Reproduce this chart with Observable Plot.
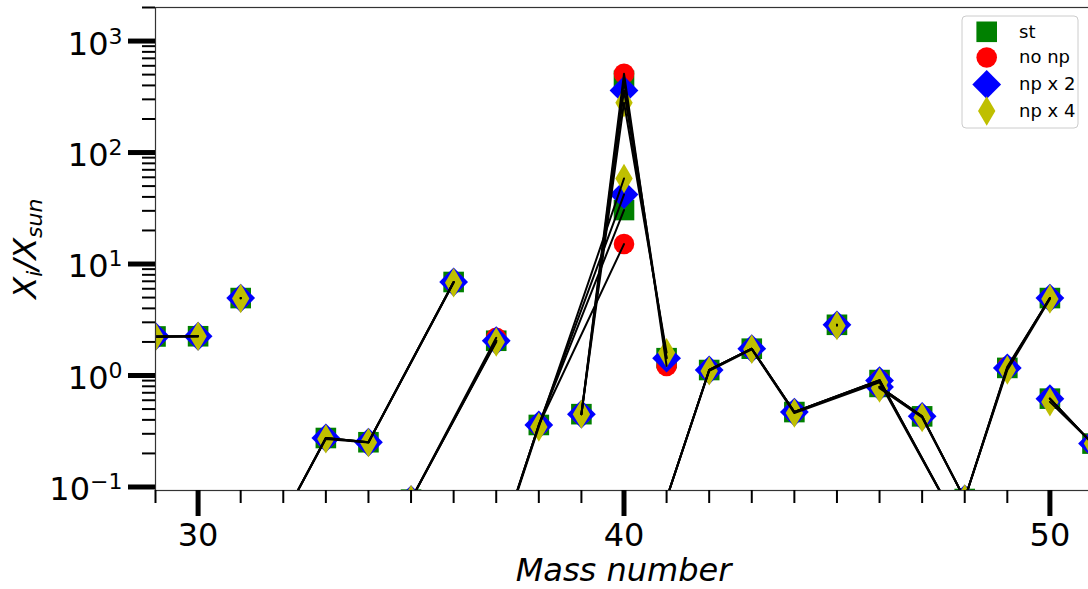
<!DOCTYPE html>
<html><head><meta charset="utf-8">
<script src="https://cdn.jsdelivr.net/npm/d3@7"></script>
<script src="https://cdn.jsdelivr.net/npm/@observablehq/plot@0.6"></script>
<style>html,body{margin:0;padding:0;background:#fff;overflow:hidden}</style>
</head><body><div id="chart"></div>
<script>
// ---- data ----
const element = ["Si","Si","P","S","S","S","S","Cl","Cl","Ar","Ar","Ar","K","K","K","Ca","Ca","Ca","Ca","Ca","Ca","Sc","Ti","Ti","Ti","Ti","Ti","V","V"];
const mass    = [29,30,31,32,33,34,36,35,37,36,38,40,39,40,41,40,42,43,44,46,48,45,46,47,48,49,50,50,51];
const st      = [2.24,2.25,4.95,0.053,0.275,0.252,6.9,0.077,2.05,0.0017,0.36,30.5,0.45,440,1.43,0.0056,1.12,1.74,0.47,0.91,0.036,2.85,0.79,0.43,0.078,1.17,4.95,0.62,0.245];
const noNp    = [2.24,2.25,4.95,0.053,0.275,0.252,6.9,0.077,2.18,0.0017,0.36,15.1,0.45,509,1.22,0.0056,1.12,1.74,0.47,0.91,0.036,2.85,0.79,0.43,0.078,1.2,4.95,0.62,0.245];
const np2     = [2.24,2.25,4.95,0.053,0.275,0.252,6.9,0.077,2.05,0.0017,0.36,42,0.45,361,1.43,0.0056,1.12,1.74,0.47,0.9,0.036,2.85,0.79,0.43,0.078,1.17,4.95,0.62,0.245];
const np4     = [2.22,2.25,4.9,0.053,0.27,0.25,6.8,0.077,2.0,0.0017,0.345,58.5,0.45,280,1.6,0.0056,1.1,1.72,0.46,0.87,0.036,2.8,0.77,0.42,0.078,1.12,4.85,0.58,0.245];
const seriesNames = ["st","no np","np x 2","np x 4"];
const xTickLabels = [30,40,50];
const yTickValues = [0.1,1,10,100,1000];
const xLabel = "Mass number";

// ---- styles ----
const colors = ["#008000","#ff0000","#0000ff","#bfbf00"];
const radii  = [10.3,10.3,14.4,14.7];
const sym = (f) => ({draw(ctx, size){ const r = Math.sqrt(size/Math.PI); f(ctx, r); ctx.closePath(); }});
const symSquare  = sym((c,r)=>{c.moveTo(-r,-r);c.lineTo(r,-r);c.lineTo(r,r);c.lineTo(-r,r);});
const symCircle  = sym((c,r)=>{c.moveTo(r,0);c.arc(0,0,r,0,2*Math.PI);});
const symDiamond = sym((c,r)=>{c.moveTo(0,-r);c.lineTo(r,0);c.lineTo(0,r);c.lineTo(-r,0);});
const symThin    = sym((c,r)=>{const w=0.59*r;c.moveTo(0,-r);c.lineTo(w,0);c.lineTo(0,r);c.lineTo(-w,0);});
const symbols = [symSquare, symCircle, symDiamond, symThin];

const seriesValues = [st, noNp, np2, np4];
const rows = [];
seriesValues.forEach((vals, s) => {
  vals.forEach((v, i) => rows.push({series: seriesNames[s], element: element[i], mass: mass[i], value: v, key: element[i] + "|" + seriesNames[s]}));
});

const yDomain = [0.093, 2000];
const xMinor = d3.range(29, 52);
const yMinor = [];
for (let k = -2; k <= 3; k++) for (let m = 2; m <= 9; m++) { const v = m * Math.pow(10, k); if (v >= yDomain[0] && v <= yDomain[1]) yMinor.push(v); }

const dotMarks = seriesNames.map((name, s) =>
  Plot.dot(rows.filter(d => d.series === name), {x: "mass", y: "value", symbol: symbols[s], r: radii[s], fill: colors[s], stroke: "none", clip: true})
);

const chart = Plot.plot({
  width: 1088, height: 589,
  marginLeft: 155, marginRight: -4, marginTop: 7, marginBottom: 99,
  style: {fontFamily: "'DejaVu Sans', sans-serif", background: "white", overflow: "hidden", color: "black"},
  x: {domain: [29, 51], label: null},
  y: {type: "log", domain: yDomain, label: null},
  marks: [
    ...dotMarks,
    Plot.line(rows, {x: "mass", y: "value", z: "key", stroke: "black", strokeWidth: 2, clip: true}),
    Plot.frame({stroke: "#333", strokeWidth: 1.2}),
    Plot.axisX(xMinor, {tickSize: 13, strokeWidth: 2, fill: "none", label: null, tickFormat: () => ""}),
    Plot.axisX(xTickLabels, {tickSize: 26, strokeWidth: 5, tickPadding: 7, fontSize: 32, fill: "black", label: null, tickFormat: d => String(d)}),
    Plot.axisY(yMinor, {tickSize: 13, strokeWidth: 2, fill: "none", label: null, tickFormat: () => ""}),
    Plot.axisY(yTickValues, {tickSize: 27, strokeWidth: 5, tickPadding: 6, fontSize: 32, fill: "black", label: null, tickFormat: d => "10^" + Math.round(Math.log10(d))})
  ]
});
document.getElementById("chart").appendChild(chart);

const svg = d3.select(chart);
// superscript exponents on the y tick labels
svg.selectAll('[aria-label="y-axis tick label"] text').each(function() {
  const t = this.textContent;
  if (!t.includes("^")) return;
  const e = t.split("^")[1].replace("-", "\u2212");
  this.textContent = "10";
  this.setAttribute("y", "0.42em");
  const ts = document.createElementNS("http://www.w3.org/2000/svg", "tspan");
  ts.setAttribute("font-size", "22");
  ts.setAttribute("dy", "-11");
  ts.textContent = e;
  this.appendChild(ts);
});

// axis labels
svg.append("text").attr("x", 623.5).attr("y", 581).attr("text-anchor", "middle")
  .attr("font-size", 32).attr("font-style", "italic").attr("fill", "black").text(xLabel);
const yl = svg.append("text").attr("transform", "translate(36,248.6) rotate(-90)").attr("text-anchor", "middle")
  .attr("font-size", 32).attr("font-style", "italic").attr("fill", "black");
yl.append("tspan").text("X");
yl.append("tspan").attr("font-size", 22).attr("dy", 6).text("i");
yl.append("tspan").attr("dy", -6).text("/X");
yl.append("tspan").attr("font-size", 22).attr("dy", 6).text("sun");

// legend
const lg = svg.append("g").attr("font-size", 18).attr("fill", "black").attr("text-anchor", "start");
lg.append("rect").attr("x", 962).attr("y", 16).attr("width", 116).attr("height", 112).attr("rx", 4)
  .attr("fill", "white").attr("fill-opacity", 0.8).attr("stroke", "#cccccc");
const rowY = [31.8, 57.5, 84.5, 111];
const textY = [37.5, 63, 90, 116.5];
seriesNames.forEach((name, s) => {
  lg.append("path").attr("transform", `translate(986.7,${rowY[s]})`)
    .attr("d", d3.symbol(symbols[s], Math.PI * radii[s] * radii[s])()).attr("fill", colors[s]);
  lg.append("text").attr("x", 1019).attr("y", textY[s]).attr("text-anchor", "start").text(name);
});
</script></body></html>
